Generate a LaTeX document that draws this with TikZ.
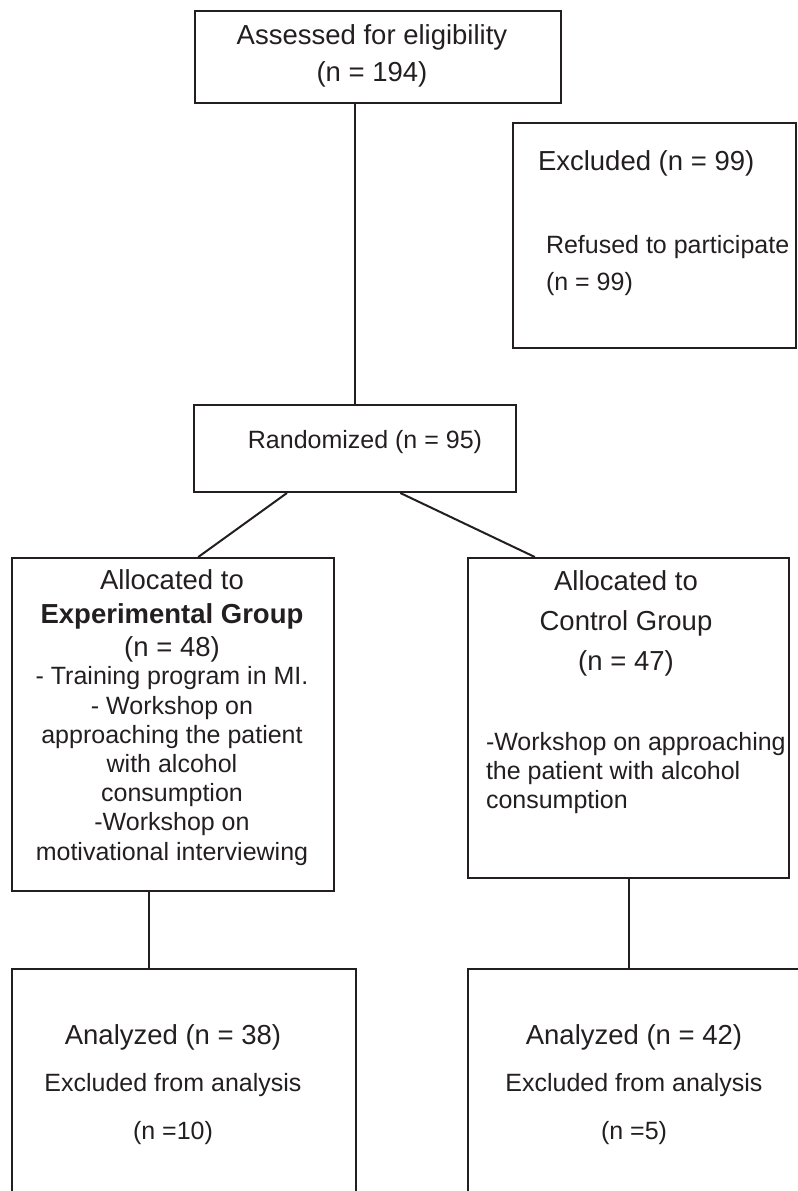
\documentclass[tikz,border=0pt]{standalone}
\usepackage{fontspec}
\setmainfont{Liberation Sans}
\usetikzlibrary{calc}
\definecolor{ink}{HTML}{231F20}
\begin{document}
\begin{tikzpicture}[x=0.5pt, y=-0.5pt, line width=1pt, draw=ink, text=ink,
  box/.style={draw, inner sep=0pt, anchor=north west},
  head/.style={font=\fontsize{13.75}{#1}\selectfont, inner sep=0pt, align=center},
  body/.style={font=\fontsize{12.5}{#1}\selectfont, inner sep=0pt, align=center}]
\clip (0,0) rectangle (798,1191);
\node[box, minimum width=183pt, minimum height=46pt] (assessed) at (194,10) {};
\node[box, minimum width=141.5pt, minimum height=112.5pt] (excluded) at (512,122) {};
\node[box, minimum width=161pt, minimum height=43.5pt] (randomized) at (193,404) {};
\node[box, minimum width=161pt, minimum height=166.5pt] (expgroup) at (11,557) {};
\node[box, minimum width=160.5pt, minimum height=160pt] (ctrlgroup) at (467,557) {};
\node[box, minimum width=172pt, minimum height=120pt] (expanalysis) at (11,968) {};
\node[box, minimum width=175pt, minimum height=120pt] (ctrlanalysis) at (467,968) {};
\node[head=18.5pt] (assessedtxt) at (372,56) {Assessed for eligibility\\(n = 194)};
\node[head=18.5pt, anchor=west] (excludedtxt) at (537,163) {Excluded (n = 99)};
\node[body=18.5pt, align=left, anchor=west] (refusedtxt) at (545,266) {Refused to participate\\(n = 99)};
\node[body=15pt] (randomizedtxt) at (365,442) {Randomized (n = 95)};
\node[head=16.75pt] (exphead) at (172,616) {Allocated to\\\textbf{Experimental Group}\\(n = 48)};
\node[body=14.6pt] (expbody) at (172,766) {- Training program in MI.\\- Workshop on\\approaching the patient\\with alcohol\\consumption\\-Workshop on\\motivational interviewing};
\node[head=20pt] (ctrlhead) at (626,623) {Allocated to\\Control Group\\(n = 47)};
\node[body=14.3pt, align=left, anchor=west] (ctrlbody) at (485,773) {-Workshop on approaching\\the patient with alcohol\\consumption};
\node[head=18pt] (expres) at (173,1037) {Analyzed (n = 38)};
\node[body=24pt] (expresbody) at (173,1109) {Excluded from analysis\\(n =10)};
\node[head=18pt] (ctrlres) at (634,1037) {Analyzed (n = 42)};
\node[body=24pt] (ctrlresbody) at (634,1109) {Excluded from analysis\\(n =5)};
\coordinate (expdown) at ($(expgroup.south west)!0.425!(expgroup.south east)$);
\draw (randomized.north) -- (randomized.north |- assessed.south);
\draw ($(randomized.south west)!0.29!(randomized.south east)$) -- ($(expgroup.north west)!0.578!(expgroup.north east)$);
\draw ($(randomized.south west)!0.64!(randomized.south east)$) -- ($(ctrlgroup.north west)!0.21!(ctrlgroup.north east)$);
\draw (expdown) -- (expdown |- expanalysis.north);
\draw (ctrlgroup.south) -- (ctrlgroup.south |- ctrlanalysis.north);
\end{tikzpicture}
\end{document}
